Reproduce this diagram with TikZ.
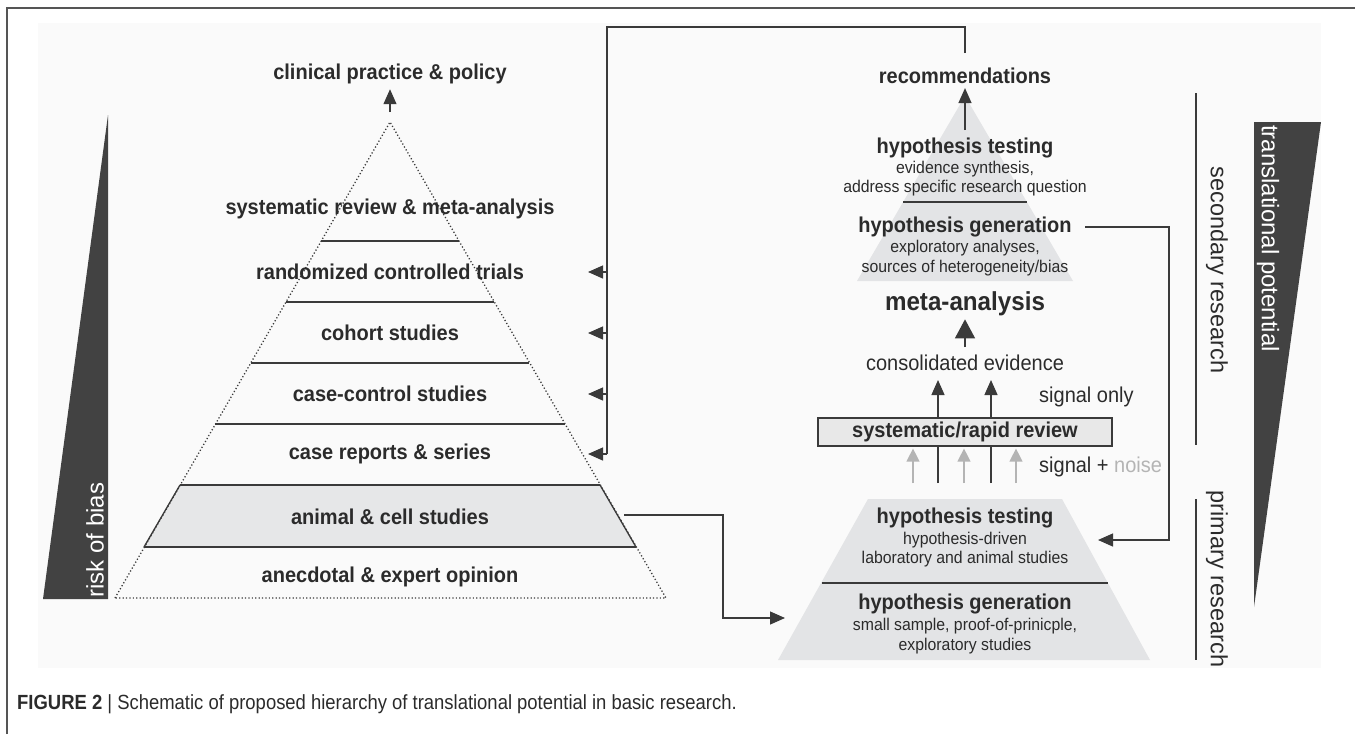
\documentclass[tikz,border=0pt]{standalone}
\usepackage{fontspec}
\setmainfont{Liberation Sans}
\newfontfamily\condfont[FakeStretch=0.93]{Liberation Sans}
\newfontfamily\capfont[FakeStretch=0.9]{Liberation Sans}
\usetikzlibrary{arrows.meta}
\definecolor{ink}{HTML}{2B2B2B}
\definecolor{linec}{HTML}{3A3A3A}
\definecolor{wedgec}{HTML}{424242}
\definecolor{pyrfill}{HTML}{E3E4E6}
\definecolor{bandfill}{HTML}{E6E7E8}
\definecolor{boxfill}{HTML}{E8E8E8}
\definecolor{bgc}{HTML}{FAFAFA}
\definecolor{noisec}{HTML}{B4B4B4}
\definecolor{framec}{HTML}{555555}
\begin{document}
\begin{tikzpicture}[x=1pt,y=-1pt,
  lab/.style={font=\condfont\fontsize{21.5}{24}\selectfont\bfseries, text=ink, inner sep=0pt},
  reg/.style={font=\condfont\fontsize{21.5}{24}\selectfont, text=ink, inner sep=0pt},
  sub/.style={font=\condfont\fontsize{17}{19}\selectfont, text=ink, inner sep=0pt, align=center},
  side/.style={font=\fontsize{23.5}{26}\selectfont, text=ink, inner sep=0pt},
  wtext/.style={font=\fontsize{24}{26}\selectfont, text=white, inner sep=0pt},
  rule/.style={draw=linec, line width=1.3pt},
  dotline/.style={draw=linec, line width=1.3pt, dash pattern=on 1.2pt off 2.2pt},
  conn/.style={draw=linec, line width=1.3pt},
  arr/.style={draw=linec, line width=1.3pt, -{Triangle[length=15pt,width=13pt]}},
  bigarr/.style={draw=linec, line width=1.3pt, -{Triangle[length=19pt,width=20pt]}},
  garr/.style={draw=noisec, line width=1.3pt, -{Triangle[length=13pt,width=13pt]}},
  reviewbox/.style={draw=linec, fill=boxfill, line width=1.2pt, minimum width=294pt, minimum height=28pt, inner sep=0pt, font=\condfont\fontsize{21.5}{24}\selectfont\bfseries, text=ink}
]
\useasboundingbox (0,0) rectangle (1355,734);
% background and frame
\fill[bgc] (38,23) rectangle (1321,668);
\draw[framec, line width=1.5pt] (7,734) -- (7,8) -- (1355,8);

% ---------- left wedge: risk of bias ----------
\fill[wedgec] (108,115) -- (108,599) -- (43,599) -- cycle;
\node[wtext, rotate=90] (risk) at (95,540) {risk of bias};

% ---------- left pyramid ----------
\coordinate (apex) at (390,122);
\coordinate (bl) at (115,598);
\coordinate (br) at (666,598);
\fill[bandfill] (180,485) -- (600,485) -- (636,547) -- (144,547) -- cycle;
\draw[dotline] (bl) -- (apex) -- (br) -- cycle;
\draw[rule] (180,485) -- (144,547);
\draw[rule] (600,485) -- (636,547);
\foreach \yy in {241,302,363,424,485,547}{
  \pgfmathsetmacro\hw{0.5788*(\yy-122)}
  \draw[rule] ({390-\hw},\yy) -- ({390+\hw},\yy);
}
\node[lab] (clin) at (390,74) {clinical practice \& policy};
\node[lab] (sr)   at (390,209) {systematic review \& meta-analysis};
\node[lab] (rct)  at (390,272) {randomized controlled trials};
\node[lab] (coh)  at (390,333) {cohort studies};
\node[lab] (cc)   at (390,394) {case-control studies};
\node[lab] (crs)  at (390,454) {case reports \& series};
\node[lab] (anim) at (390,517) {animal \& cell studies};
\node[lab] (anec) at (390,577) {anecdotal \& expert opinion};
\coordinate (apexstart) at (390,112);
\draw[arr, shorten >=5pt] (apexstart) -- (clin.south);

% ---------- right upper pyramid ----------
\fill[pyrfill] (965,96) -- (1073,281) -- (857,281) -- cycle;
\draw[rule] (903,202) -- (1027,202);
\node[lab] (rec) at (965,76) {recommendations};
\node[lab] (ht1) at (965,148) {hypothesis testing};
\node[sub] (ht1s) at (965,179) {evidence synthesis,\\[0pt]address specific research question};
\node[lab] (hg1) at (965,227) {hypothesis generation};
\node[sub] (hg1s) at (965,258) {exploratory analyses,\\[1pt]sources of heterogeneity/bias};
\coordinate (recstart) at (965,130);
\draw[arr, shorten >=4pt] (recstart) -- (rec.south);

\node[font=\condfont\fontsize{26}{28}\selectfont\bfseries, text=ink, inner sep=0pt] (meta) at (965,304) {meta-analysis};
\node[reg] (cons) at (965,363) {consolidated evidence};
\coordinate (consTop) at (965,347);
\draw[bigarr, shorten >=3pt] (consTop) -- (meta.south);

\node[reviewbox] (review) at (965,432) {systematic/rapid review};
\node[reg, anchor=west] (sigonly) at (1039,397) {signal only};
\node[reg, anchor=west] (signoise) at (1039,467) {signal + \textcolor{noisec}{noise}};

% signal arrows above the box
\coordinate (s1top) at (938,380);
\coordinate (s2top) at (991,380);
\draw[arr] (review.north -| s1top) -- (s1top);
\draw[arr] (review.north -| s2top) -- (s2top);

% signal + noise below the box
\coordinate (n1) at (913,483);
\coordinate (s1) at (938,483);
\coordinate (n2) at (964,483);
\coordinate (s2) at (991,483);
\coordinate (n3) at (1016,483);
\draw[garr, shorten >=2pt] (n1) -- (review.south -| n1);
\draw[garr, shorten >=2pt] (n2) -- (review.south -| n2);
\draw[garr, shorten >=2pt] (n3) -- (review.south -| n3);
\draw[conn] (s1) -- (review.south -| s1);
\draw[conn] (s2) -- (review.south -| s2);

% ---------- right lower trapezoid ----------
\fill[pyrfill] (868,499) -- (1062,499) -- (1150,660) -- (778,660) -- cycle;
\draw[rule] (822,583) -- (1108,583);
\node[lab] (ht2) at (965,518) {hypothesis testing};
\node[sub] (ht2s) at (965,550) {hypothesis-driven\\[0pt]laboratory and animal studies};
\node[lab] (hg2) at (965,604) {hypothesis generation};
\node[sub] (hg2s) at (965,636) {small sample, proof-of-prinicple,\\[1pt]exploratory studies};

% ---------- connectors ----------
\coordinate (topR) at (965,27);
\coordinate (topL) at (607,27);
\coordinate (recTop) at (965,53);
\coordinate (vRct) at (607,272);
\coordinate (vCoh) at (607,333);
\coordinate (vCc)  at (607,394);
\coordinate (vCrs) at (607,454);
\coordinate (tRct) at (588,272);
\coordinate (tCoh) at (588,333);
\coordinate (tCc)  at (588,394);
\coordinate (tCrs) at (588,454);
\draw[conn] (recTop) -- (topR) -- (topL) -- (vCrs);
\draw[arr] (vRct) -- (tRct);
\draw[arr] (vCoh) -- (tCoh);
\draw[arr] (vCc) -- (tCc);
\draw[arr] (vCrs) -- (tCrs);

\coordinate (hgOut) at (1085,227);
\coordinate (hgR) at (1169,227);
\coordinate (hgD) at (1169,540);
\coordinate (hgTip) at (1098,540);
\draw[arr] (hgOut) -- (hgR) -- (hgD) -- (hgTip);

\coordinate (anOut) at (624,515);
\coordinate (anR) at (723,515);
\coordinate (anD) at (723,618);
\coordinate (anTip) at (785,618);
\draw[arr] (anOut) -- (anR) -- (anD) -- (anTip);

% ---------- right side labels ----------
\draw[draw=linec, line width=1.2pt] (1196,93) -- (1196,445);
\draw[draw=linec, line width=1.2pt] (1196,499) -- (1196,660);
\node[side, rotate=-90] (secres) at (1217,270) {secondary research};
\node[side, rotate=-90] (primres) at (1217,579) {primary research};
\fill[wedgec] (1254,122) -- (1321,122) -- (1254,607) -- cycle;
\node[wtext, rotate=-90, anchor=west] (transl) at (1268,125) {translational potential};

% ---------- caption ----------
\node[anchor=west, inner sep=0pt, font=\capfont\fontsize{20.5}{24}\selectfont, text=ink] (caption) at (17,704)
  {\textbf{FIGURE 2} | Schematic of proposed hierarchy of translational potential in basic research.};
\end{tikzpicture}
\end{document}
